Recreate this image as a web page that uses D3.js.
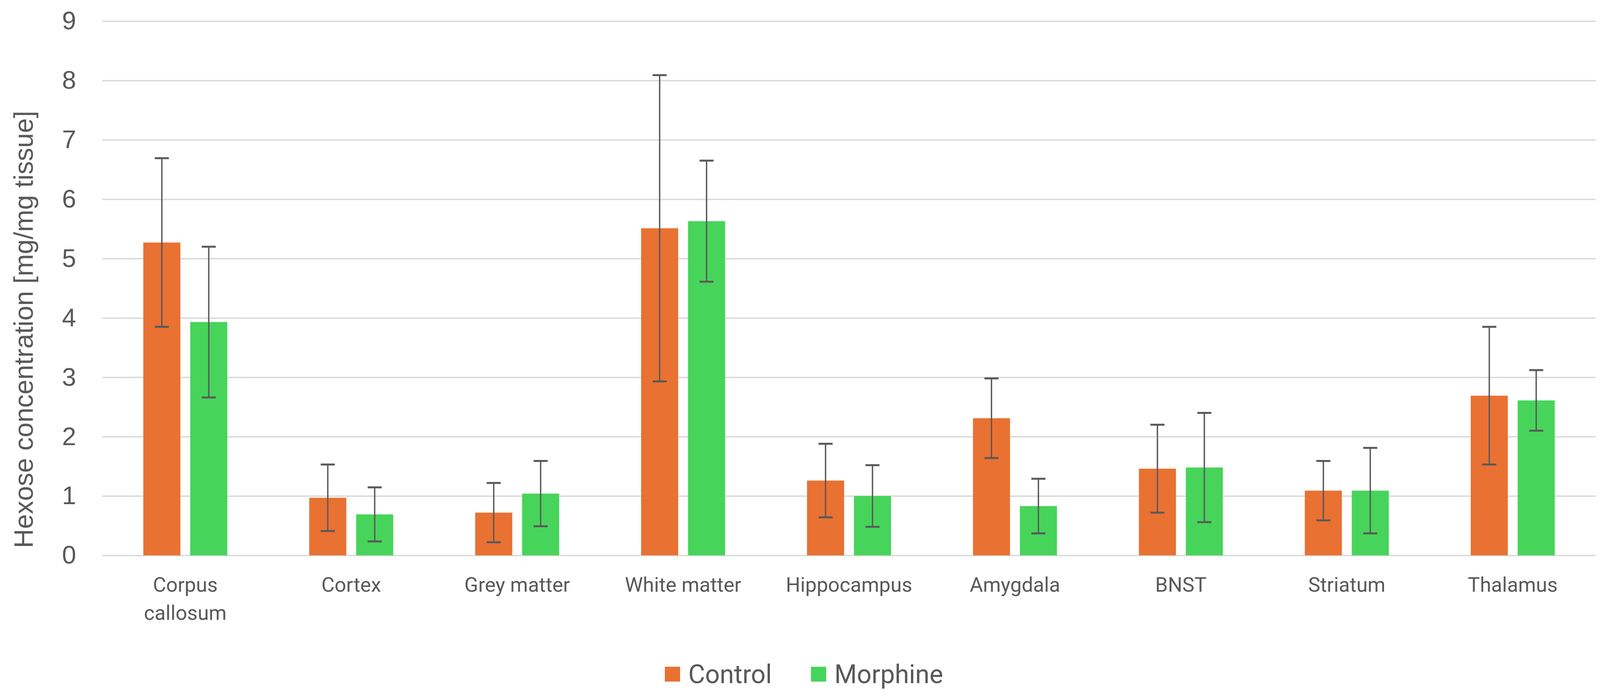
<!DOCTYPE html>
<html>
<head>
<meta charset="utf-8">
<script src="https://cdn.jsdelivr.net/npm/d3@7"></script>
<style>
  body { margin: 0; background: #fff; }
  svg { display: block; }
</style>
</head>
<body>
<script>
// data
var categories = ["Corpus\ncallosum", "Cortex", "Grey matter", "White matter", "Hippocampus",
                  "Amygdala", "BNST", "Striatum", "Thalamus"];
var series = ["Control", "Morphine"];
var control = [5.27, 0.97, 0.72, 5.51, 1.26, 2.31, 1.46, 1.09, 2.69];
var controlErr = [1.42, 0.56, 0.50, 2.58, 0.62, 0.67, 0.74, 0.50, 1.16];
var morphine = [3.93, 0.69, 1.04, 5.63, 1.00, 0.83, 1.48, 1.09, 2.61];
var morphineErr = [1.27, 0.455, 0.55, 1.02, 0.52, 0.46, 0.92, 0.72, 0.51];
var yTicks = [0, 1, 2, 3, 4, 5, 6, 7, 8, 9];
var colors = ["#E97132", "#47D45A"];

var W = 4113, H = 1786;
var margin = {top: 54, right: 28, bottom: 365, left: 262};
var width = W - margin.left - margin.right,
    height = H - margin.top - margin.bottom;

var rows = categories.map(function(c, i) {
  return {cat: c, vals: [
    {s: series[0], v: control[i], e: controlErr[i]},
    {s: series[1], v: morphine[i], e: morphineErr[i]}
  ]};
});

var svg = d3.select("body").append("svg")
    .attr("width", W).attr("height", H);

var main = svg.append("g")
    .attr("transform", "translate(" + margin.left + "," + margin.top + ")");

var x0 = d3.scaleBand().domain(categories).range([0, width]).padding(0);
var inner = 215;
var x1 = d3.scaleBand().domain(series)
    .range([(x0.bandwidth() - inner) / 2, (x0.bandwidth() + inner) / 2])
    .paddingInner(0.21);
var y = d3.scaleLinear().domain([0, 9]).range([height, 0]);

// gridlines + y labels
var yAxis = d3.axisLeft(y).tickValues(yTicks).tickSize(-width).tickPadding(67)
    .tickFormat(d3.format("d"));
var gy = main.append("g").call(yAxis);
gy.select(".domain").remove();
gy.selectAll(".tick line").attr("stroke", "#D9D9D9").attr("stroke-width", 3.5);
gy.selectAll(".tick text")
    .attr("fill", "#595959")
    .style("font-family", "'Liberation Sans', Arial, sans-serif")
    .style("font-size", "65px");

// x labels
var xAxis = d3.axisBottom(x0).tickSize(0).tickPadding(0);
var gx = main.append("g").attr("transform", "translate(0," + height + ")").call(xAxis);
gx.select(".domain").remove();
gx.selectAll(".tick text")
    .attr("fill", "#595959")
    .attr("y", 0).attr("dy", null)
    .style("font-family", "'Liberation Sans Narrow', 'Roboto', sans-serif")
    .style("font-size", "52px")
    .each(function(d) {
      var t = d3.select(this);
      t.text(null);
      d.split("\n").forEach(function(line, i) {
        t.append("tspan").attr("x", 0).attr("y", 93 + i * 72).text(line);
      });
    });

// bars
var groups = main.selectAll(".grp").data(rows).enter().append("g")
    .attr("transform", function(d) { return "translate(" + x0(d.cat) + ",0)"; });

groups.selectAll("rect").data(function(d) { return d.vals; }).enter().append("rect")
    .attr("x", function(d) { return x1(d.s); })
    .attr("y", function(d) { return y(d.v); })
    .attr("width", x1.bandwidth())
    .attr("height", function(d) { return height - y(d.v); })
    .attr("fill", function(d, i) { return colors[i]; });

// error bars
var eb = groups.selectAll(".err").data(function(d) { return d.vals; }).enter().append("g")
    .attr("stroke", "#595959").attr("stroke-width", 3.5);
var cap = 18;
eb.append("line")
    .attr("x1", function(d) { return x1(d.s) + x1.bandwidth() / 2; })
    .attr("x2", function(d) { return x1(d.s) + x1.bandwidth() / 2; })
    .attr("y1", function(d) { return y(d.v + d.e); })
    .attr("y2", function(d) { return y(d.v - d.e); });
eb.selectAll(".cap").data(function(d) { return [d.v + d.e, d.v - d.e].map(function(v) { return {s: d.s, v: v}; }); })
  .enter().append("line")
    .attr("x1", function(d) { return x1(d.s) + x1.bandwidth() / 2 - cap; })
    .attr("x2", function(d) { return x1(d.s) + x1.bandwidth() / 2 + cap; })
    .attr("y1", function(d) { return y(d.v); })
    .attr("y2", function(d) { return y(d.v); })
    .attr("stroke-width", 5);

// y title
svg.append("text")
    .attr("transform", "translate(60,843) rotate(-90)")
    .attr("text-anchor", "middle")
    .attr("dominant-baseline", "central")
    .attr("fill", "#595959")
    .style("font-family", "'Liberation Sans', Arial, sans-serif")
    .style("font-size", "68px")
    .text("Hexose concentration [mg/mg tissue]");

// legend
var legend = svg.append("g").attr("transform", "translate(1702,1725)");
var lx = [0, 374];
series.forEach(function(s, i) {
  var g = legend.append("g").attr("transform", "translate(" + lx[i] + ",0)");
  g.append("rect").attr("x", 0).attr("y", -19).attr("width", 39).attr("height", 38)
      .attr("fill", colors[i]);
  g.append("text").attr("x", 60).attr("y", 0)
      .attr("dominant-baseline", "central")
      .attr("fill", "#595959")
      .style("font-family", "'Liberation Sans Narrow', 'Roboto', sans-serif")
      .style("font-size", "66px")
      .text(s);
});
</script>
</body>
</html>
